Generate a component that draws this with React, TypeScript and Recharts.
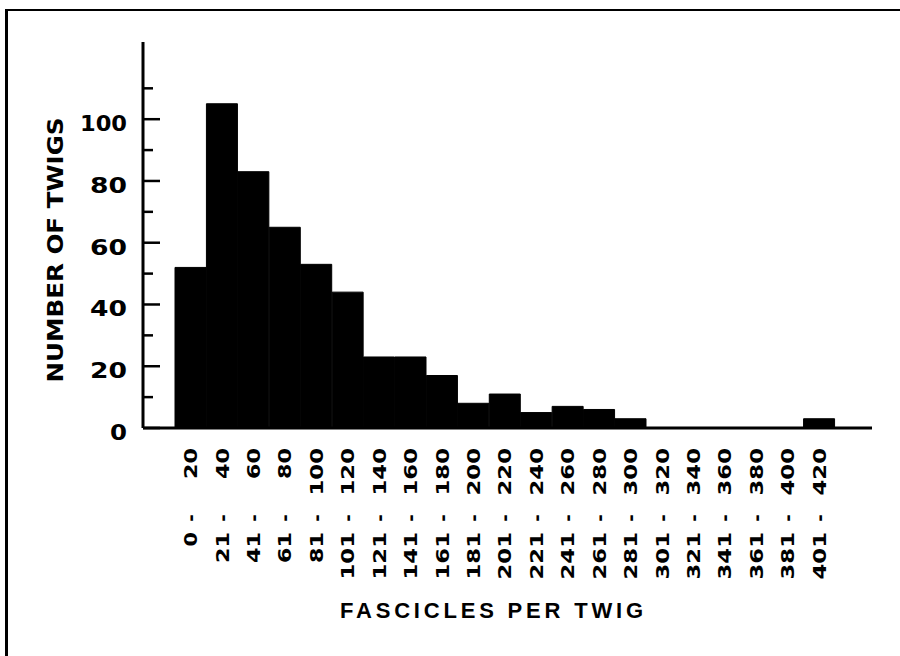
import React from 'react';
import { BarChart, Bar, XAxis, YAxis, Label } from 'recharts';

const lowerBounds = ['0', '21', '41', '61', '81', '101', '121', '141', '161', '181', '201', '221', '241', '261', '281', '301', '321', '341', '361', '381', '401'];
const upperBounds = ['20', '40', '60', '80', '100', '120', '140', '160', '180', '200', '220', '240', '260', '280', '300', '320', '340', '360', '380', '400', '420'];
const twigCounts = [52, 105, 83, 65, 53, 44, 23, 23, 17, 8, 11, 5, 7, 6, 3, 0, 0, 0, 0, 0, 3];
const yTicks = [0, 10, 20, 30, 40, 50, 60, 70, 80, 90, 100, 110];

const data = lowerBounds.map((lo, i) => ({
  range: `${lo}-${upperBounds[i]}`,
  count: twigCounts[i],
}));

const DIGIT_FONT = 'DejaVu Sans';

function XTick(props: any) {
  const { x, y, payload } = props;
  const [lo, hi] = String(payload.value).split('-');
  const common = { fontFamily: DIGIT_FONT, fontWeight: 700, fontSize: 18, fill: '#000' } as any;
  const hiY = y + 20;
  const dashY = y + 90;
  const loY = y + 104;
  return (
    <g>
      <text x={x} y={hiY} dy="0.36em" textAnchor="end" transform={`rotate(-90, ${x}, ${hiY})`}
        textLength={hi.length * 16.5 - 2} lengthAdjust="spacingAndGlyphs" {...common}>{hi}</text>
      <text x={x} y={dashY} dy="0.36em" textAnchor="middle" transform={`rotate(-90, ${x}, ${dashY})`} {...common}>-</text>
      <text x={x} y={loY} dy="0.36em" textAnchor="end" transform={`rotate(-90, ${x}, ${loY})`}
        textLength={lo.length * 16.5 - 2} lengthAdjust="spacingAndGlyphs" {...common}>{lo}</text>
    </g>
  );
}

function YTick(props: any) {
  const { x, y, payload } = props;
  const v = Number(payload.value);
  const major = v % 20 === 0;
  const s = String(v);
  let w = -3;
  for (const ch of s) w += ch === '1' ? 10 : 20;
  return (
    <g>
      <line x1={x} x2={x + (major ? 17 : 10)} y1={y} y2={y} stroke="#000" strokeWidth={2.5} />
      {major && (
        <text x={x - 16} y={y + 12} textAnchor="end" fontFamily={DIGIT_FONT} fontWeight={700} fontSize={21} fill="#000"
          textLength={w} lengthAdjust="spacingAndGlyphs">{s}</text>
      )}
    </g>
  );
}

function YTitle(props: any) {
  const vb = props.viewBox || { x: 63, y: 42, width: 80, height: 386 };
  const cx = vb.x - 8;
  const cy = vb.y + vb.height / 2 + 15;
  return (
    <text x={cx} y={cy} dy="0.36em" textAnchor="middle" transform={`rotate(-90, ${cx}, ${cy})`}
      fontFamily="DejaVu Sans" fontWeight={700} fontSize={22} fill="#000" textLength={265} lengthAdjust="spacingAndGlyphs">
      NUMBER OF TWIGS
    </text>
  );
}

function XTitle(props: any) {
  const vb = props.viewBox || { x: 143, y: 428, width: 729, height: 200 };
  const cx = vb.x + 348.5;
  const cy = vb.y + 190;
  return (
    <text x={cx} y={cy} textAnchor="middle" fontFamily="Liberation Sans" fontWeight={700} fontSize={22} fill="#000"
      textLength={303} lengthAdjust="spacing">
      FASCICLES PER TWIG
    </text>
  );
}

export default function App() {
  return (
    <div style={{ position: 'absolute', left: 0, top: 0, width: 900, height: 656, background: '#fff', overflow: 'hidden' }}>
      <div style={{ position: 'absolute', left: 5, top: 9, width: 892, height: 645, borderTop: '2px solid #000', borderLeft: '3px solid #000' }} />
      <div style={{ position: 'absolute', left: 0, top: 0 }}>
        <BarChart width={900} height={656} data={data} margin={{ top: 42, right: 28, left: 63, bottom: 28 }} barCategoryGap={0}>
          <XAxis dataKey="range" interval={0} height={200} tickSize={0} tickMargin={0} tickLine={false}
            axisLine={{ stroke: '#000', strokeWidth: 3 }} padding={{ left: 32, right: 37 }} tick={<XTick />}>
            <Label content={<XTitle />} />
          </XAxis>
          <YAxis type="number" domain={[0, 125]} ticks={yTicks} interval={0} width={80} tickSize={0} tickMargin={0}
            tickLine={false} axisLine={{ stroke: '#000', strokeWidth: 3 }} tick={<YTick />}>
            <Label content={<YTitle />} />
          </YAxis>
          <Bar dataKey="count" fill="#000" stroke="#000" strokeWidth={1} isAnimationActive={false} />
        </BarChart>
      </div>
    </div>
  );
}
